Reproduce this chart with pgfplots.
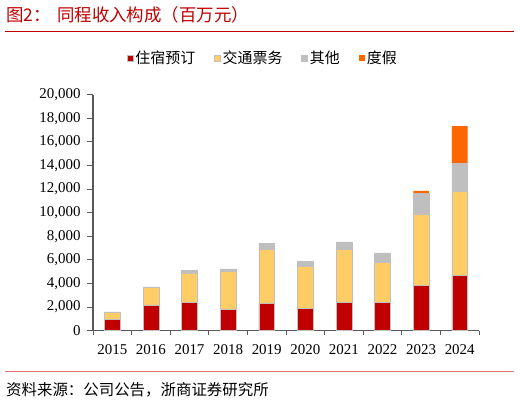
\documentclass[border=0pt]{standalone}
\usepackage{pgfplots}
\pgfplotsset{compat=1.18}
\usepackage{pgfplotstable}
\usepackage{fontspec}
\setmainfont{Liberation Serif}
\newfontfamily\cjk{Noto Sans CJK SC}
\definecolor{hotel}{HTML}{C00000}
\definecolor{traffic}{HTML}{FFCC66}
\definecolor{other}{HTML}{BFBFBF}
\definecolor{vacation}{HTML}{FF6600}
\definecolor{axisgray}{HTML}{595959}
\definecolor{rule}{HTML}{C00000}
\definecolor{rulelight}{HTML}{E07070}

% revenue by segment, million CNY
\pgfplotstableread{
x year hotel traffic other vacation
0 2015 970  590  40   0
1 2016 2150 1530 30   0
2 2017 2410 2500 230  0
3 2018 1810 3190 230  0
4 2019 2320 4580 470  0
5 2020 1920 3500 480  0
6 2021 2410 4490 620  0
7 2022 2410 3360 820  0
8 2023 3870 6040 1700 230
9 2024 4690 7140 2370 3140
}\revenue

\begin{document}
\begin{tikzpicture}[x=1bp,y=1bp]
\begin{axis}[
  scale only axis, width=386bp, height=236bp,
  ybar stacked, bar width=15.7bp,
  xmin=-0.5, xmax=9.5, ymin=0, ymax=20000,
  axis x line=bottom, axis y line=left,
  axis line style={axisgray, line width=1.3bp, -},
  xtick={0,...,9},
  xticklabels={2015,2016,2017,2018,2019,2020,2021,2022,2023,2024},
  major x tick style={draw=none},
  minor xtick={-0.5,0.5,...,9.5},
  minor x tick style={axisgray, line width=1bp},
  minor tick length=4bp,
  ytick={0,2000,...,20000},
  y tick style={axisgray, line width=1bp},
  major tick length=6bp,
  tick align=outside,
  scaled y ticks=false,
  /pgf/number format/1000 sep={,},
  /pgf/number format/assume math mode=true,
  xticklabel style={yshift=-4bp},
  yticklabel style={xshift=-3bp},
  tick label style={font=\fontsize{15}{18}\selectfont},
  legend style={at={(0.44,1.155)}, anchor=center, draw=none, fill=none,
    legend columns=4, font=\cjk\fontsize{15}{18}\selectfont,
    /tikz/every even column/.append style={column sep=17bp}},
  legend image code/.code={\fill[#1] (0bp,-3bp) rectangle (6bp,3bp);},
  clip=false,
]
\addplot[fill=hotel, draw=other, line width=0.5bp] table[x=x,y=hotel]{\revenue};
\addlegendentry{住宿预订}
\addplot[fill=traffic, draw=other, line width=0.5bp] table[x=x,y=traffic]{\revenue};
\addlegendentry{交通票务}
\addplot[fill=other, draw=other, line width=0.5bp] table[x=x,y=other]{\revenue};
\addlegendentry{其他}
\addplot[fill=vacation, draw=none] table[x=x,y=vacation]{\revenue};
\addlegendentry{度假}
\coordinate (O) at (rel axis cs:0,0);
\end{axis}
\begin{scope}[shift={(O)}, xshift=-93bp, yshift=-71.3bp]
\pgfresetboundingbox
\useasboundingbox (0,0) rectangle (520,402);
\node[anchor=west, text=rule, inner sep=0, font=\cjk\fontsize{17.5}{20}\selectfont] at (6,387) {图2：};
\node[anchor=west, text=rule, inner sep=0, font=\cjk\fontsize{17.5}{20}\selectfont] at (57,387) {同程收入构成（百万元）};
\draw[rule, line width=1bp] (5,370.7) -- (514,370.7);
\draw[rulelight, line width=1bp] (5,30.3) -- (514,30.3);
\node[anchor=west, inner sep=0, font=\cjk\fontsize{15.5}{18}\selectfont] at (6,12) {资料来源：公司公告，浙商证券研究所};
\end{scope}
\end{tikzpicture}
\end{document}
